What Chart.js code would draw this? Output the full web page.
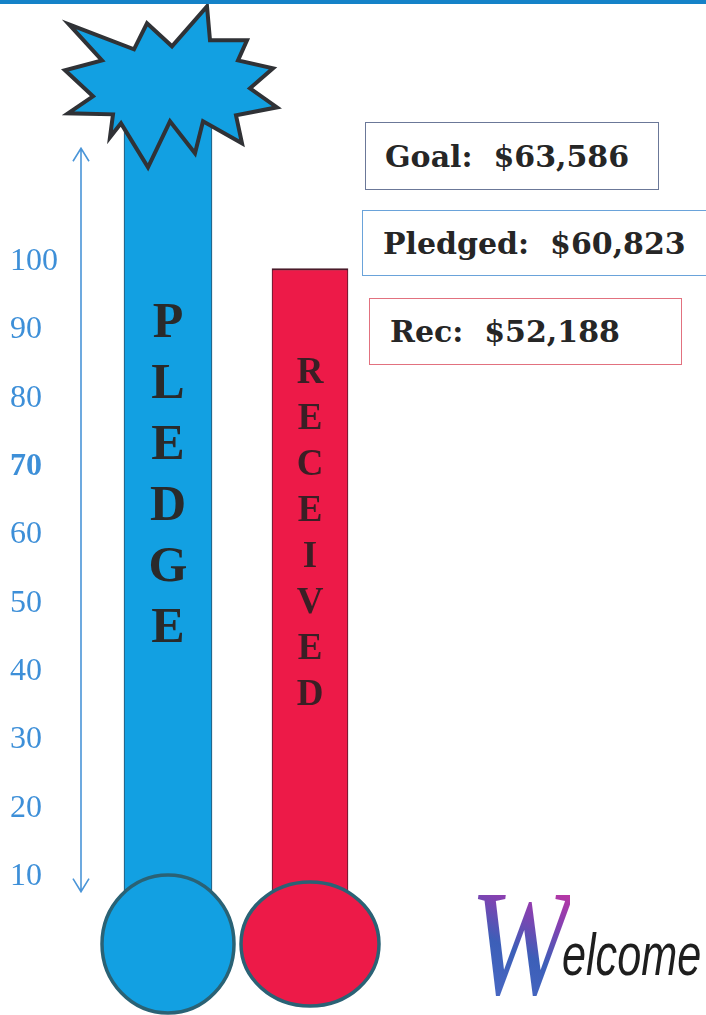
<!DOCTYPE html>
<html>
<head>
<meta charset="utf-8">
<script src="https://cdn.jsdelivr.net/npm/chart.js@4.4.1/dist/chart.umd.min.js"></script>
<style>
  body { margin: 0; background: #fff; }
  #wrap { position: relative; width: 706px; height: 1015px; overflow: hidden; }
  #topline { position: absolute; left: 0; top: 0; width: 706px; height: 4px; background: #1582c8; }
  .box { position: absolute; box-sizing: border-box; display: flex; align-items: center;
         font-family: "DejaVu Serif", serif; font-weight: bold; font-size: 30px; color: #262626;
         white-space: pre; background: #fff; }
  #welcome { position: absolute; left: 470px; top: 868px; width: 240px; height: 147px; }
  #welcome .w { position: absolute; left: 0; top: 0; font-family: "Liberation Serif", serif; font-style: italic;
         font-size: 150px; line-height: 150px; transform: scaleX(0.8); transform-origin: left top;
         background: linear-gradient(20deg, #4f6cc8 0%, #3c5fb8 45%, #8a3fb0 70%, #e0309a 100%);
         -webkit-background-clip: text; background-clip: text; color: transparent; }
  #welcome .rest { position: absolute; left: 92px; top: 52px; font-family: "Liberation Sans", sans-serif;
         font-style: italic; font-size: 60px; line-height: 70px; color: #1e1e1e;
         transform: scaleX(0.72); transform-origin: left top; }
</style>
</head>
<body>
<div id="wrap">
  <canvas id="thermo"></canvas>
  <div id="topline"></div>
  <div id="boxes"></div>
  <div id="welcome"><span class="w">W</span><span class="rest">elcome</span></div>
</div>
<script>
// bar values (left tick scale, 10..100)
var categories = ["PLEDGE", "RECEIVED"];
var barValues = [122, 99];
var tickValues = [10, 20, 30, 40, 50, 60, 70, 80, 90, 100];

// amounts shown in the boxes at the right
var boxLabels = ["Goal", "Pledged", "Rec"];
var boxAmounts = [63586, 60823, 52188];

var boxStyles = [
  {left: 365, top: 122, width: 294, height: 68, border: "#6b7898", pad: 19},
  {left: 362, top: 210, width: 360, height: 66, border: "#6aa3da", pad: 20},
  {left: 369, top: 298, width: 313, height: 67, border: "#e2717f", pad: 20}
];

var boxes = document.getElementById("boxes");
boxLabels.forEach(function (lab, i) {
  var s = boxStyles[i];
  var d = document.createElement("div");
  d.className = "box";
  d.style.left = s.left + "px";
  d.style.top = s.top + "px";
  d.style.width = s.width + "px";
  d.style.height = s.height + "px";
  d.style.border = "1.5px solid " + s.border;
  d.style.paddingLeft = s.pad + "px";
  d.textContent = lab + ":  $" + boxAmounts[i].toLocaleString("en-US");
  boxes.appendChild(d);
});

var barColors = ["#12a0e2", "#ed1a48"];
var bulbSize = [[66, 69], [69, 62]];
var letterStyle = [
  {font: "bold 50px 'Liberation Serif'", color: "#2a2a2a", start: 324, step: 61},
  {font: "bold 37px 'Liberation Serif'", color: "#3a1f25", start: 373, step: 46}
];

// star outline around the top of the pledge bar
var starPts = [
  [-99,-87],[-34,-62],[-21,-88],[4,-65],[39,-105],[42,-71],[79,-71],[70,-51],
  [105,-43],[82,-23],[109,-4],[68,4],[74,32],[35,10],[27,42],[2,10],
  [-20,56],[-47,12],[-58,26],[-55,3],[-100,2],[-75,-15],[-103,-41],[-66,-51]
];

var thermoPlugin = {
  id: "thermo",
  afterDatasetsDraw: function (chart) {
    var ctx = chart.ctx;
    var y = chart.scales.y;
    var zero = y.getPixelForValue(0);

    // bulbs
    categories.forEach(function (c, i) {
      var bar = chart.getDatasetMeta(i).data[i];
      ctx.save();
      ctx.beginPath();
      ctx.ellipse(bar.x, zero - 1, bulbSize[i][0], bulbSize[i][1], 0, 0, Math.PI * 2);
      ctx.fillStyle = barColors[i];
      ctx.fill();
      ctx.lineWidth = 3.5;
      ctx.strokeStyle = "#2a6275";
      ctx.stroke();
      ctx.restore();
    });

    // starburst on top of pledge bar
    var pb = chart.getDatasetMeta(0).data[0];
    ctx.save();
    ctx.beginPath();
    starPts.forEach(function (p, k) {
      if (k === 0) ctx.moveTo(pb.x + p[0], pb.y + p[1]);
      else ctx.lineTo(pb.x + p[0], pb.y + p[1]);
    });
    ctx.closePath();
    ctx.fillStyle = barColors[0];
    ctx.fill();
    ctx.lineJoin = "miter";
    ctx.lineWidth = 4;
    ctx.strokeStyle = "#303236";
    ctx.stroke();
    ctx.restore();

    // vertical letters in the bars
    categories.forEach(function (c, i) {
      var bar = chart.getDatasetMeta(i).data[i];
      var st = letterStyle[i];
      ctx.save();
      ctx.font = st.font;
      ctx.fillStyle = st.color;
      ctx.textAlign = "center";
      ctx.textBaseline = "middle";
      c.split("").forEach(function (ch, k) {
        ctx.fillText(ch, bar.x, st.start + k * st.step);
      });
      ctx.restore();
    });

    // double-headed arrow beside the scale
    var ax = chart.chartArea.left - 16;
    var yTop = y.getPixelForValue(116.6);
    var yBot = y.getPixelForValue(7.8);
    ctx.save();
    ctx.strokeStyle = "#4a95d8";
    ctx.lineWidth = 1.6;
    ctx.beginPath();
    ctx.moveTo(ax, yTop);
    ctx.lineTo(ax, yBot);
    ctx.moveTo(ax - 8, yTop + 13);
    ctx.lineTo(ax, yTop);
    ctx.lineTo(ax + 8, yTop + 13);
    ctx.moveTo(ax - 8, yBot - 13);
    ctx.lineTo(ax, yBot);
    ctx.lineTo(ax + 8, yBot - 13);
    ctx.stroke();
    ctx.restore();
  }
};

new Chart("thermo", {
  type: "bar",
  data: {
    labels: categories,
    datasets: [{
      data: [barValues[0], null],
      backgroundColor: barColors[0],
      borderColor: "#2b4d66",
      borderWidth: {left: 1, right: 1, top: 0, bottom: 0},
      barThickness: 88,
      grouped: false
    }, {
      data: [null, barValues[1]],
      backgroundColor: barColors[1],
      borderColor: "#4a1b2a",
      borderWidth: {left: 1, right: 1, top: 2, bottom: 0},
      barThickness: 76,
      grouped: false
    }]
  },
  options: {
    responsive: true,
    maintainAspectRatio: false,
    animation: false,
    layout: {padding: {left: 10, right: 325, top: 22.5, bottom: 70}},
    plugins: {legend: {display: false}, tooltip: {enabled: false}},
    scales: {
      x: {display: false},
      y: {
        min: 0,
        max: 135,
        afterBuildTicks: function (s) {
          s.ticks = tickValues.map(function (v) { return {value: v}; });
        },
        afterFit: function (s) { s.width = 87; },
        grid: {display: false, drawTicks: false},
        border: {display: false},
        ticks: {
          color: "#3d8fd8",
          padding: 0,
          crossAlign: "far",
          font: function (c) {
            return {family: "'Liberation Serif', serif", size: 32,
                    weight: c.tick && c.tick.value === 70 ? "bold" : "normal"};
          }
        }
      }
    }
  },
  plugins: [thermoPlugin]
});
</script>
</body>
</html>
